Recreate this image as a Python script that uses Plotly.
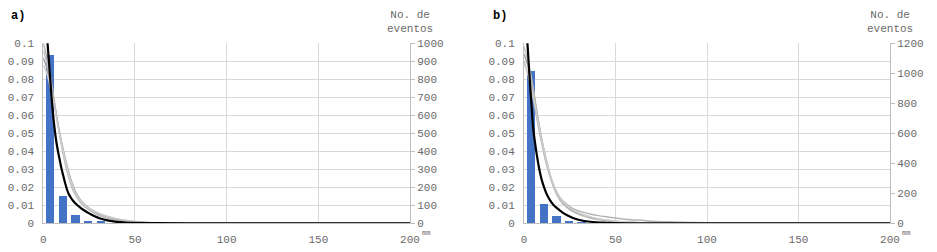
import plotly.graph_objects as go

# ---------------- data ----------------
bin_centers = [3.9, 10.8, 17.7, 24.6, 31.5]
counts_a = [935, 148, 42, 11, 7]
counts_b = [1015, 124, 45, 10, 6]

# fitted curves, panel a
x_black_a = [0, 1, 2, 3, 4, 5, 6, 7, 8, 9, 10, 11, 12, 13, 14, 15, 16, 18, 20, 22, 25, 28, 31, 35, 40, 45, 50, 60, 80, 200]
y_black_a = [0.128, 0.117, 0.104, 0.091, 0.077, 0.064, 0.054, 0.046, 0.040, 0.035, 0.030, 0.026, 0.022, 0.0185, 0.0160, 0.0143, 0.0128, 0.0106, 0.0089, 0.0074, 0.0055, 0.0039, 0.0027, 0.0016, 0.0008, 0.0004, 0.0002, 0.0001, 0, 0]

x_gray_a = [0, 2, 4, 6, 8, 10, 12, 14, 16, 18, 20, 22, 25, 28, 32, 36, 40, 45, 50, 55, 60, 80, 200]
y_gray_a1 = [0.100, 0.092, 0.081, 0.068, 0.055, 0.043, 0.033, 0.025, 0.0190, 0.0150, 0.0120, 0.0098, 0.0074, 0.0056, 0.0038, 0.0026, 0.0017, 0.0010, 0.0005, 0.0003, 0.0001, 0, 0]
y_gray_a2 = [0.096, 0.089, 0.079, 0.067, 0.055, 0.044, 0.034, 0.026, 0.0200, 0.0158, 0.0127, 0.0104, 0.0080, 0.0061, 0.0043, 0.0030, 0.0020, 0.0012, 0.0007, 0.0004, 0.0002, 0, 0]
y_gray_a3 = [0.092, 0.086, 0.077, 0.066, 0.055, 0.045, 0.036, 0.028, 0.0215, 0.0168, 0.0134, 0.0110, 0.0085, 0.0066, 0.0047, 0.0034, 0.0024, 0.0015, 0.0009, 0.0005, 0.0003, 0, 0]
y_gray_a4 = [0.088, 0.083, 0.075, 0.065, 0.054, 0.044, 0.035, 0.027, 0.0205, 0.0160, 0.0128, 0.0106, 0.0083, 0.0066, 0.0049, 0.0036, 0.0026, 0.0017, 0.0010, 0.0006, 0.0003, 0, 0]

# fitted curves, panel b
x_black_b = [0, 1, 2, 3, 4, 5, 6, 7, 8, 9, 10, 11, 12, 13, 14, 15, 16, 18, 20, 22, 25, 28, 31, 35, 40, 45, 50, 60, 200]
y_black_b = [0.125, 0.112, 0.098, 0.082, 0.067, 0.053, 0.045, 0.038, 0.032, 0.027, 0.023, 0.020, 0.0172, 0.0150, 0.0132, 0.0116, 0.0103, 0.0084, 0.0068, 0.0054, 0.0038, 0.0025, 0.0017, 0.0010, 0.0005, 0.0003, 0.0001, 0, 0]

x_gray_b = [0, 2, 4, 6, 8, 10, 12, 14, 16, 18, 20, 22, 25, 28, 32, 36, 40, 45, 50, 55, 60, 70, 80, 100, 200]
y_gray_b1 = [0.090, 0.083, 0.074, 0.064, 0.053, 0.043, 0.034, 0.027, 0.0215, 0.0170, 0.0140, 0.0118, 0.0092, 0.0076, 0.0062, 0.0052, 0.0044, 0.0036, 0.0029, 0.0023, 0.0019, 0.0012, 0.0008, 0.0003, 0]
y_gray_b2 = [0.098, 0.091, 0.081, 0.069, 0.056, 0.045, 0.035, 0.027, 0.0205, 0.0158, 0.0124, 0.0100, 0.0075, 0.0058, 0.0042, 0.0030, 0.0021, 0.0014, 0.0009, 0.0006, 0.0004, 0.0001, 0, 0, 0]
y_gray_b3 = [0.094, 0.088, 0.079, 0.068, 0.056, 0.045, 0.036, 0.028, 0.0215, 0.0168, 0.0133, 0.0108, 0.0082, 0.0064, 0.0047, 0.0034, 0.0025, 0.0017, 0.0011, 0.0007, 0.0005, 0.0002, 0.0001, 0, 0]
y_gray_b4 = [0.089, 0.084, 0.076, 0.066, 0.055, 0.045, 0.036, 0.028, 0.0220, 0.0172, 0.0138, 0.0112, 0.0086, 0.0068, 0.0050, 0.0037, 0.0027, 0.0018, 0.0012, 0.0008, 0.0005, 0.0002, 0.0001, 0, 0]

pdf_ticks = [0, 0.01, 0.02, 0.03, 0.04, 0.05, 0.06, 0.07, 0.08, 0.09, 0.1]
pdf_ticktext = ["0", "0.01", "0.02", "0.03", "0.04", "0.05", "0.06", "0.07", "0.08", "0.09", "0.1"]
x_ticks = [0, 50, 100, 150, 200]
count_ticks_a = [0, 100, 200, 300, 400, 500, 600, 700, 800, 900, 1000]
count_ticks_b = [0, 200, 400, 600, 800, 1000, 1200]
count_grid_b = [120, 240, 360, 480, 600, 720, 840, 960, 1080, 1200]

# ---------------- style ----------------
FONT = "Liberation Mono"
TXT = "#6a6a6a"
GRID = "#d9d9d9"
AXL = "#bfbfbf"
BLUE = "#4472C4"
grays = ["#b4b4b4", "#c4c4c4", "#a8a8a8", "#cfcfcf"]

# page body has an 8px margin; size the figure to fit inside the window
OFF = 8
W, H = 937 - 2 * OFF, 252 - 2 * OFF
def px(x):
    return (x - OFF) / W
def py(y):
    return 1 - (y - OFF) / H

top, bot = 43.3, 223.3
dom_y = [py(bot), py(top)]
dom_a = [px(43.3), px(410)]
dom_b = [px(524), px(890)]

fig = go.Figure()

# bars (base axis = counts, right side)
fig.add_trace(go.Bar(x=bin_centers, y=counts_a, width=4.6, marker=dict(color=BLUE, line_width=0),
                     xaxis="x", yaxis="y", showlegend=False))
fig.add_trace(go.Bar(x=bin_centers, y=counts_b, width=4.6, marker=dict(color=BLUE, line_width=0),
                     xaxis="x2", yaxis="y3", showlegend=False))

# curves (overlay axis = pdf, left side)
for yy, c in zip([y_gray_a1, y_gray_a2, y_gray_a3, y_gray_a4], grays):
    fig.add_trace(go.Scatter(x=x_gray_a, y=yy, mode="lines", line=dict(color=c, width=1.5, shape="spline"),
                             xaxis="x", yaxis="y2", showlegend=False))
fig.add_trace(go.Scatter(x=x_black_a, y=y_black_a, mode="lines", line=dict(color="black", width=2.2, shape="spline"),
                         xaxis="x", yaxis="y2", showlegend=False))
for yy, c in zip([y_gray_b1, y_gray_b2, y_gray_b3, y_gray_b4], grays):
    fig.add_trace(go.Scatter(x=x_gray_b, y=yy, mode="lines", line=dict(color=c, width=1.5, shape="spline"),
                             xaxis="x2", yaxis="y4", showlegend=False))
fig.add_trace(go.Scatter(x=x_black_b, y=y_black_b, mode="lines", line=dict(color="black", width=2.2, shape="spline"),
                         xaxis="x2", yaxis="y4", showlegend=False))

tickfont = dict(family=FONT, size=11, color=TXT)

xcommon = dict(range=[0, 200], tickvals=x_ticks, showgrid=True, gridcolor=GRID, gridwidth=1,
               showline=True, linecolor=AXL, zeroline=False, ticks="", tickfont=tickfont,
               ticklabelstandoff=5, fixedrange=True, automargin=False)
pdfcommon = dict(range=[0, 0.1], tickvals=pdf_ticks, ticktext=pdf_ticktext, showgrid=False,
                 showline=True, linecolor=AXL, zeroline=False, ticks="", tickfont=tickfont,
                 side="left", ticklabelstandoff=6, fixedrange=True, automargin=False)

fig.update_layout(
    template="none",
    width=W, height=H,
    margin=dict(l=0, r=0, t=0, b=0, autoexpand=False),
    paper_bgcolor="white", plot_bgcolor="white",
    bargap=0,
    xaxis=dict(domain=dom_a, anchor="y", **xcommon),
    xaxis2=dict(domain=dom_b, anchor="y3", **xcommon),
    yaxis=dict(domain=dom_y, anchor="x", side="right", range=[0, 1000], tickvals=count_ticks_a,
               showgrid=True, gridcolor=GRID, showline=True, linecolor=AXL, zeroline=False,
               ticks="outside", ticklen=4, tickcolor=AXL, tickfont=tickfont, fixedrange=True,
               automargin=False),
    yaxis2=dict(overlaying="y", anchor="x", **pdfcommon),
    yaxis3=dict(domain=dom_y, anchor="x2", side="right", range=[0, 1200], tickvals=count_ticks_b,
                showgrid=False, showline=True, linecolor=AXL, zeroline=False,
                ticks="outside", ticklen=4, tickcolor=AXL, tickfont=tickfont, fixedrange=True,
                automargin=False,
                minor=dict(tickvals=count_grid_b, showgrid=True, gridcolor=GRID, ticks="")),
    yaxis4=dict(overlaying="y3", anchor="x2", **pdfcommon),
)

ann = [
    dict(text="<b>a)</b>", x=px(10), y=1, xanchor="left", yanchor="top",
         font=dict(family=FONT, size=12, color="black")),
    dict(text="<b>b)</b>", x=px(492), y=1, xanchor="left", yanchor="top",
         font=dict(family=FONT, size=12, color="black")),
    dict(text="No. de<br>eventos", x=px(410), y=1, xanchor="center", yanchor="top",
         font=dict(family=FONT, size=11, color=TXT), align="center"),
    dict(text="No. de<br>eventos", x=px(890), y=1, xanchor="center", yanchor="top",
         font=dict(family=FONT, size=11, color=TXT), align="center"),
    dict(text="mm", x=px(421), y=py(233), xanchor="left", yanchor="middle",
         font=dict(family=FONT, size=7, color=TXT)),
    dict(text="mm", x=px(901), y=py(233), xanchor="left", yanchor="middle",
         font=dict(family=FONT, size=7, color=TXT)),
]
for a in ann:
    a.update(xref="paper", yref="paper", showarrow=False, borderpad=0)
fig.update_layout(annotations=ann)

fig.write_html("out.html")
